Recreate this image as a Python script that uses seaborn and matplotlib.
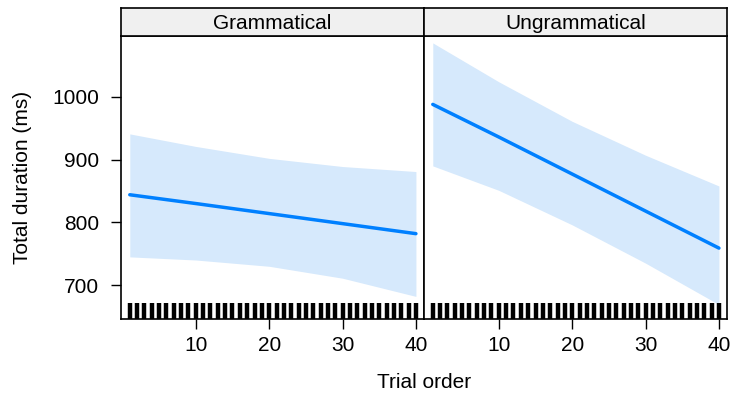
import numpy as np
import pandas as pd
import matplotlib
matplotlib.use("Agg")
import matplotlib.pyplot as plt
import seaborn as sns

# effect estimates
trial_x = [1, 10, 20, 30, 40]

gram_fit = [844, 830, 814, 798, 782]
gram_lower = [745, 740, 730, 711, 682]
gram_upper = [941, 921, 902, 889, 881]

ungram_fit = [988, 936, 877, 818, 759]
ungram_lower = [890, 851, 796, 735, 669]
ungram_upper = [1086, 1024, 961, 907, 858]

rug_trials = list(range(1, 41))

panels = ["Grammatical", "Ungrammatical"]

sns.set_style("white")
plt.rcParams["font.family"] = ["Liberation Sans", "DejaVu Sans"]
plt.rcParams["text.color"] = "black"
plt.rcParams["xtick.color"] = "black"
plt.rcParams["ytick.color"] = "black"

line_col = "#0080ff"
band_col = "#d6e9fc"
fs = 15

df = pd.concat([
    pd.DataFrame({"trial": trial_x, "fit": gram_fit, "lower": gram_lower,
                  "upper": gram_upper, "type": panels[0]}),
    pd.DataFrame({"trial": trial_x, "fit": ungram_fit, "lower": ungram_lower,
                  "upper": ungram_upper, "type": panels[1]}),
])

fig = plt.figure(figsize=(7.35, 4.0), dpi=100)
left, right, bottom, top, strip_top = 0.1646, 0.9891, 0.2025, 0.91, 0.98
w = (right - left) / 2

for i, name in enumerate(panels):
    ax = fig.add_axes([left + i * w, bottom, w, top - bottom])
    sub = df[df["type"] == name]
    ax.fill_between(sub["trial"], sub["lower"], sub["upper"], color=band_col, lw=0)
    sns.lineplot(data=sub, x="trial", y="fit", color=line_col, lw=2.5, ax=ax)
    sns.rugplot(x=rug_trials, height=0.057, color="black", linewidth=3.2, ax=ax)
    ax.set_xlim(-0.2, 41.1)
    ax.set_ylim(646, 1097)
    ax.set_xticks([10, 20, 30, 40])
    ax.tick_params(axis="x", direction="out", length=7, width=1, labelsize=fs,
                   bottom=True, pad=5)
    if i == 0:
        ax.set_yticks([700, 800, 900, 1000])
        ax.tick_params(axis="y", direction="out", length=7.5, width=1, labelsize=fs,
                       left=True, pad=8)
    else:
        ax.set_yticks([])
    ax.set_xlabel("")
    ax.set_ylabel("")
    for s in ax.spines.values():
        s.set_color("black")
        s.set_linewidth(1.2)

    # lattice-style strip
    st = fig.add_axes([left + i * w, top, w, strip_top - top])
    st.set_facecolor("#f0f0f0")
    st.set_xticks([])
    st.set_yticks([])
    for s in st.spines.values():
        s.set_color("black")
        s.set_linewidth(1.2)
    st.text(0.5, 0.45, name, ha="center", va="center", fontsize=fs,
            transform=st.transAxes)

fig.text((left + right) / 2, 0.043, "Trial order", ha="center", va="center", fontsize=fs)
fig.text(0.03, (bottom + top) / 2, "Total duration (ms)", rotation=90,
         ha="center", va="center", fontsize=fs)

fig.savefig("out.png", dpi=100)
